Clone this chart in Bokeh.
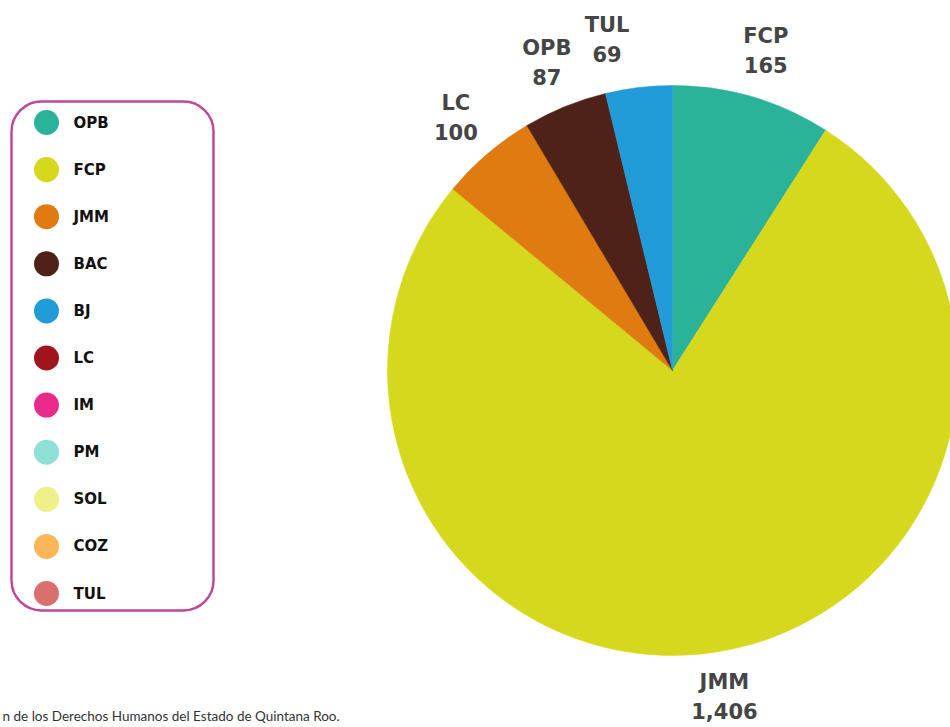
import math
from bokeh.plotting import figure
from bokeh.models import ColumnDataSource
from bokeh.core.properties import value
from bokeh.embed import file_html
from bokeh.resources import INLINE

# ---- data ----
slice_names = ["FCP", "JMM", "LC", "OPB", "TUL"]
slice_values = [165, 1406, 100, 87, 69]
slice_colors = ["#2bb39a", "#d6d81e", "#e07b12", "#4e2218", "#229bd9"]

legend_names = ["OPB", "FCP", "JMM", "BAC", "BJ", "LC", "IM", "PM", "SOL", "COZ", "TUL"]
legend_colors = ["#2bb39a", "#d6d81e", "#e07b12", "#4e2218", "#229bd9", "#a0141e",
                 "#ea2a8a", "#8fe0d6", "#f0f08a", "#fbb657", "#d9706e"]

source_text = "n de los Derechos Humanos del Estado de Quintana Roo."

# ---- layout ----
W, H = 950, 727
def px(x):  # picture x -> data x
    return x
def py(y):  # picture y -> data y
    return H - y

p = figure(width=W, height=H, x_range=(0, W), y_range=(0, H),
           output_backend="svg", toolbar_location=None, min_border=0)
p.axis.visible = False
p.grid.visible = False
p.outline_line_color = None
p.background_fill_color = "white"
p.border_fill_color = "white"

# ---- pie ----
cx, cy, R = px(672), py(370), 285
total = sum(slice_values)
starts, ends, mids = [], [], []
cum = 0
for v in slice_values:
    a0 = math.pi / 2 - 2 * math.pi * cum / total
    cum += v
    a1 = math.pi / 2 - 2 * math.pi * cum / total
    starts.append(a0)
    ends.append(a1)
    mids.append((a0 + a1) / 2)

src = ColumnDataSource(dict(x=[cx] * len(slice_values), y=[cy] * len(slice_values),
                            start=starts, end=ends, color=slice_colors))
p.wedge(x="x", y="y", radius=R, radius_units="screen", start_angle="start",
        end_angle="end", direction="clock", fill_color="color",
        line_color="color", line_width=0.5, source=src)

# labels
LR = 333
nudge_x = {"TUL": -26}
nudge_y = {"JMM": 3}
lx, ly_name, ly_val, names, vals = [], [], [], [], []
for n, v, m in zip(slice_names, slice_values, mids):
    x = cx + LR * math.cos(m) + nudge_x.get(n, 0)
    y = cy + LR * math.sin(m) + nudge_y.get(n, 0)
    lx.append(x)
    ly_name.append(y + 14.5)
    ly_val.append(y - 14.5)
    names.append(n)
    vals.append(f"{v:,}")

lab_font = value("DejaVu Sans")
p.text(x=lx, y=ly_name, text=names, text_align="center", text_baseline="middle",
       text_font=lab_font, text_font_style="bold", text_font_size="21px",
       text_color="#454545")
p.text(x=lx, y=ly_val, text=vals, text_align="center", text_baseline="middle",
       text_font=lab_font, text_font_style="bold", text_font_size="21px",
       text_color="#454545")

# ---- legend ----
p.quad(left=px(11), right=px(213), top=py(101), bottom=py(610),
       fill_color="white", line_color="#c0479b", line_width=2.5, border_radius=30)
n_leg = len(legend_names)
y0, step = 122, 47.1
leg_x = [px(46)] * n_leg
leg_y = [py(y0 + i * step) for i in range(n_leg)]
p.scatter(x=leg_x, y=leg_y, size=25, marker="circle", fill_color=legend_colors,
          line_color=None)
p.text(x=[px(73)] * n_leg, y=leg_y, text=legend_names, text_align="left",
       text_baseline="middle", text_font=lab_font, text_font_style="bold",
       text_font_size="15px", text_color="#111111")

# ---- source note ----
p.text(x=[px(2)], y=[py(715)], text=[source_text], text_align="left",
       text_baseline="middle", text_font=value("Lato"), text_font_size="13.5px",
       text_color="#333333")

open("out.html", "w").write(file_html(p, INLINE))
